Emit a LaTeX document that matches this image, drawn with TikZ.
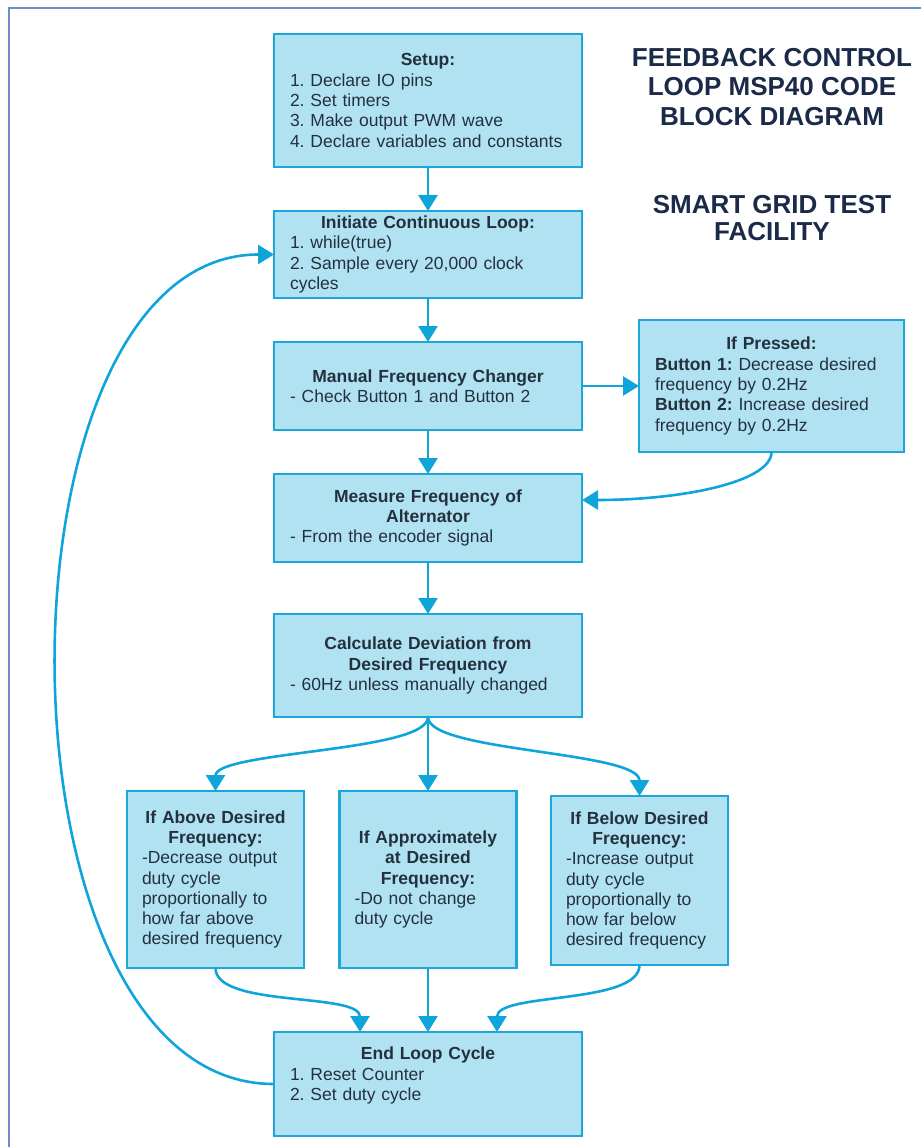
\documentclass[tikz,border=0pt]{standalone}
\usepackage{fontspec}
\setmainfont{Liberation Sans}
\usetikzlibrary{arrows.meta,calc}
\definecolor{ink}{HTML}{25303E}
\definecolor{titleink}{HTML}{1A2A48}
\definecolor{boxfill}{HTML}{B0E2F2}
\definecolor{boxline}{HTML}{1CA6DA}
\definecolor{flow}{HTML}{0FA4DA}
\definecolor{framecol}{HTML}{6C8CCB}
\setlength{\parindent}{0pt}
\frenchspacing
\hyphenpenalty=10000
\newcommand{\hd}[1]{{\centering\bfseries #1\par}}

\begin{document}
\begin{tikzpicture}[
  x=1pt, y=1pt,
  font=\fontsize{17.5}{20.3}\selectfont,
  >={Triangle[length=16pt,width=19pt]},
  stepbox/.style={draw=boxline, fill=boxfill, line width=2.4pt, outer sep=0pt, text=ink, align=left, inner xsep=16pt, inner ysep=3pt, text width=276pt, anchor=north},
  casebox/.style={stepbox, inner xsep=15pt, text width=147pt, minimum height=177pt},
  flowline/.style={->, draw=flow, line width=2.6pt},
  heading/.style={font=\fontsize{26}{29.5}\selectfont\bfseries, text=titleink, align=center}
]
\def\gap{44}

\useasboundingbox (0,0) rectangle (920,-1147);
\draw[framecol, line width=1.2pt] (9,-8) rectangle (940,-1170);

% titles
\node[heading] (maintitle) at (772,-87) {FEEDBACK CONTROL\\LOOP MSP40 CODE\\BLOCK DIAGRAM};
\node[heading, font=\fontsize{26}{27}\selectfont\bfseries] (subtitle) at (772,-218) {SMART GRID TEST\\FACILITY};

% main column
\node[stepbox, minimum height=133pt] (setup) at (428,-34) {\hd{Setup:}1. Declare IO pins\\2. Set timers\\3. Make output PWM wave\\4. Declare variables and constants};
\node[stepbox, minimum height=87pt] (init) at ($(setup.south)+(0,-\gap)$) {\hd{Initiate Continuous Loop:}1. while(true)\\2. Sample every 20,000 clock\\cycles};
\node[stepbox, minimum height=88pt] (manual) at ($(init.south)+(0,-\gap)$) {\hd{Manual Frequency Changer}- Check Button 1 and Button 2};
\node[stepbox, minimum height=88pt] (measure) at ($(manual.south)+(0,-\gap)$) {\hd{Measure Frequency of\\Alternator}- From the encoder signal};
\node[stepbox, minimum height=103pt] (calc) at ($(measure.south)+(0,-52)$) {\hd{Calculate Deviation from\\Desired Frequency}- 60Hz unless manually changed};

% button side branch
\node[stepbox, anchor=west, inner xsep=16pt, text width=233pt, minimum height=132pt] (pressed) at ($(manual.east)+(57,0)$) {\hd{If Pressed:}\textbf{Button 1:} Decrease desired\\frequency by 0.2Hz\\\textbf{Button 2:} Increase desired\\frequency by 0.2Hz};

% the three cases
\node[casebox] (above) at ($(calc.south)+(-212.5,-74)$) {\hd{If Above Desired\\Frequency:}-Decrease output\\duty cycle\\proportionally to\\how far above\\desired frequency};
\node[casebox] (approx) at ($(calc.south)+(0,-74)$) {\hd{If Approximately\\at Desired\\Frequency:}-Do not change\\duty cycle};
\node[casebox, minimum height=169pt] (below) at ($(calc.south)+(211.5,-79)$) {\hd{If Below Desired\\Frequency:}-Increase output\\duty cycle\\proportionally to\\how far below\\desired frequency};

\node[stepbox, minimum height=104pt] (endloop) at ($(approx.south)+(0,-64)$) {\hd{End Loop Cycle}1. Reset Counter\\2. Set duty cycle\\\mbox{}};

% connectors
\draw[flowline] (setup) -- (init);
\draw[flowline] (init) -- (manual);
\draw[flowline] (manual) -- (measure);
\draw[flowline] (measure) -- (calc);
\draw[flowline] (manual.east) -- (manual.east-|pressed.west);
\draw[flowline] (pressed.south) .. controls +(0,-30) and +(100,0) .. ([yshift=18pt]measure.east);
\draw[flowline] (calc.south) .. controls +(0,-35) and +(0,40) .. (above.north);
\draw[flowline] (calc) -- (approx);
\draw[flowline] (calc.south) .. controls +(0,-35) and +(0,45) .. (below.north);
\draw[flowline] (above.south) .. controls +(0,-40) and +(0,40) .. ([xshift=-68pt]endloop.north);
\draw[flowline] (approx) -- (endloop);
\draw[flowline] (below.south) .. controls +(0,-40) and +(0,40) .. ([xshift=69pt]endloop.north);
\draw[flowline] (endloop.west) .. controls +(-290,0) and +(-290,0) .. (init.west);

\end{tikzpicture}
\end{document}
